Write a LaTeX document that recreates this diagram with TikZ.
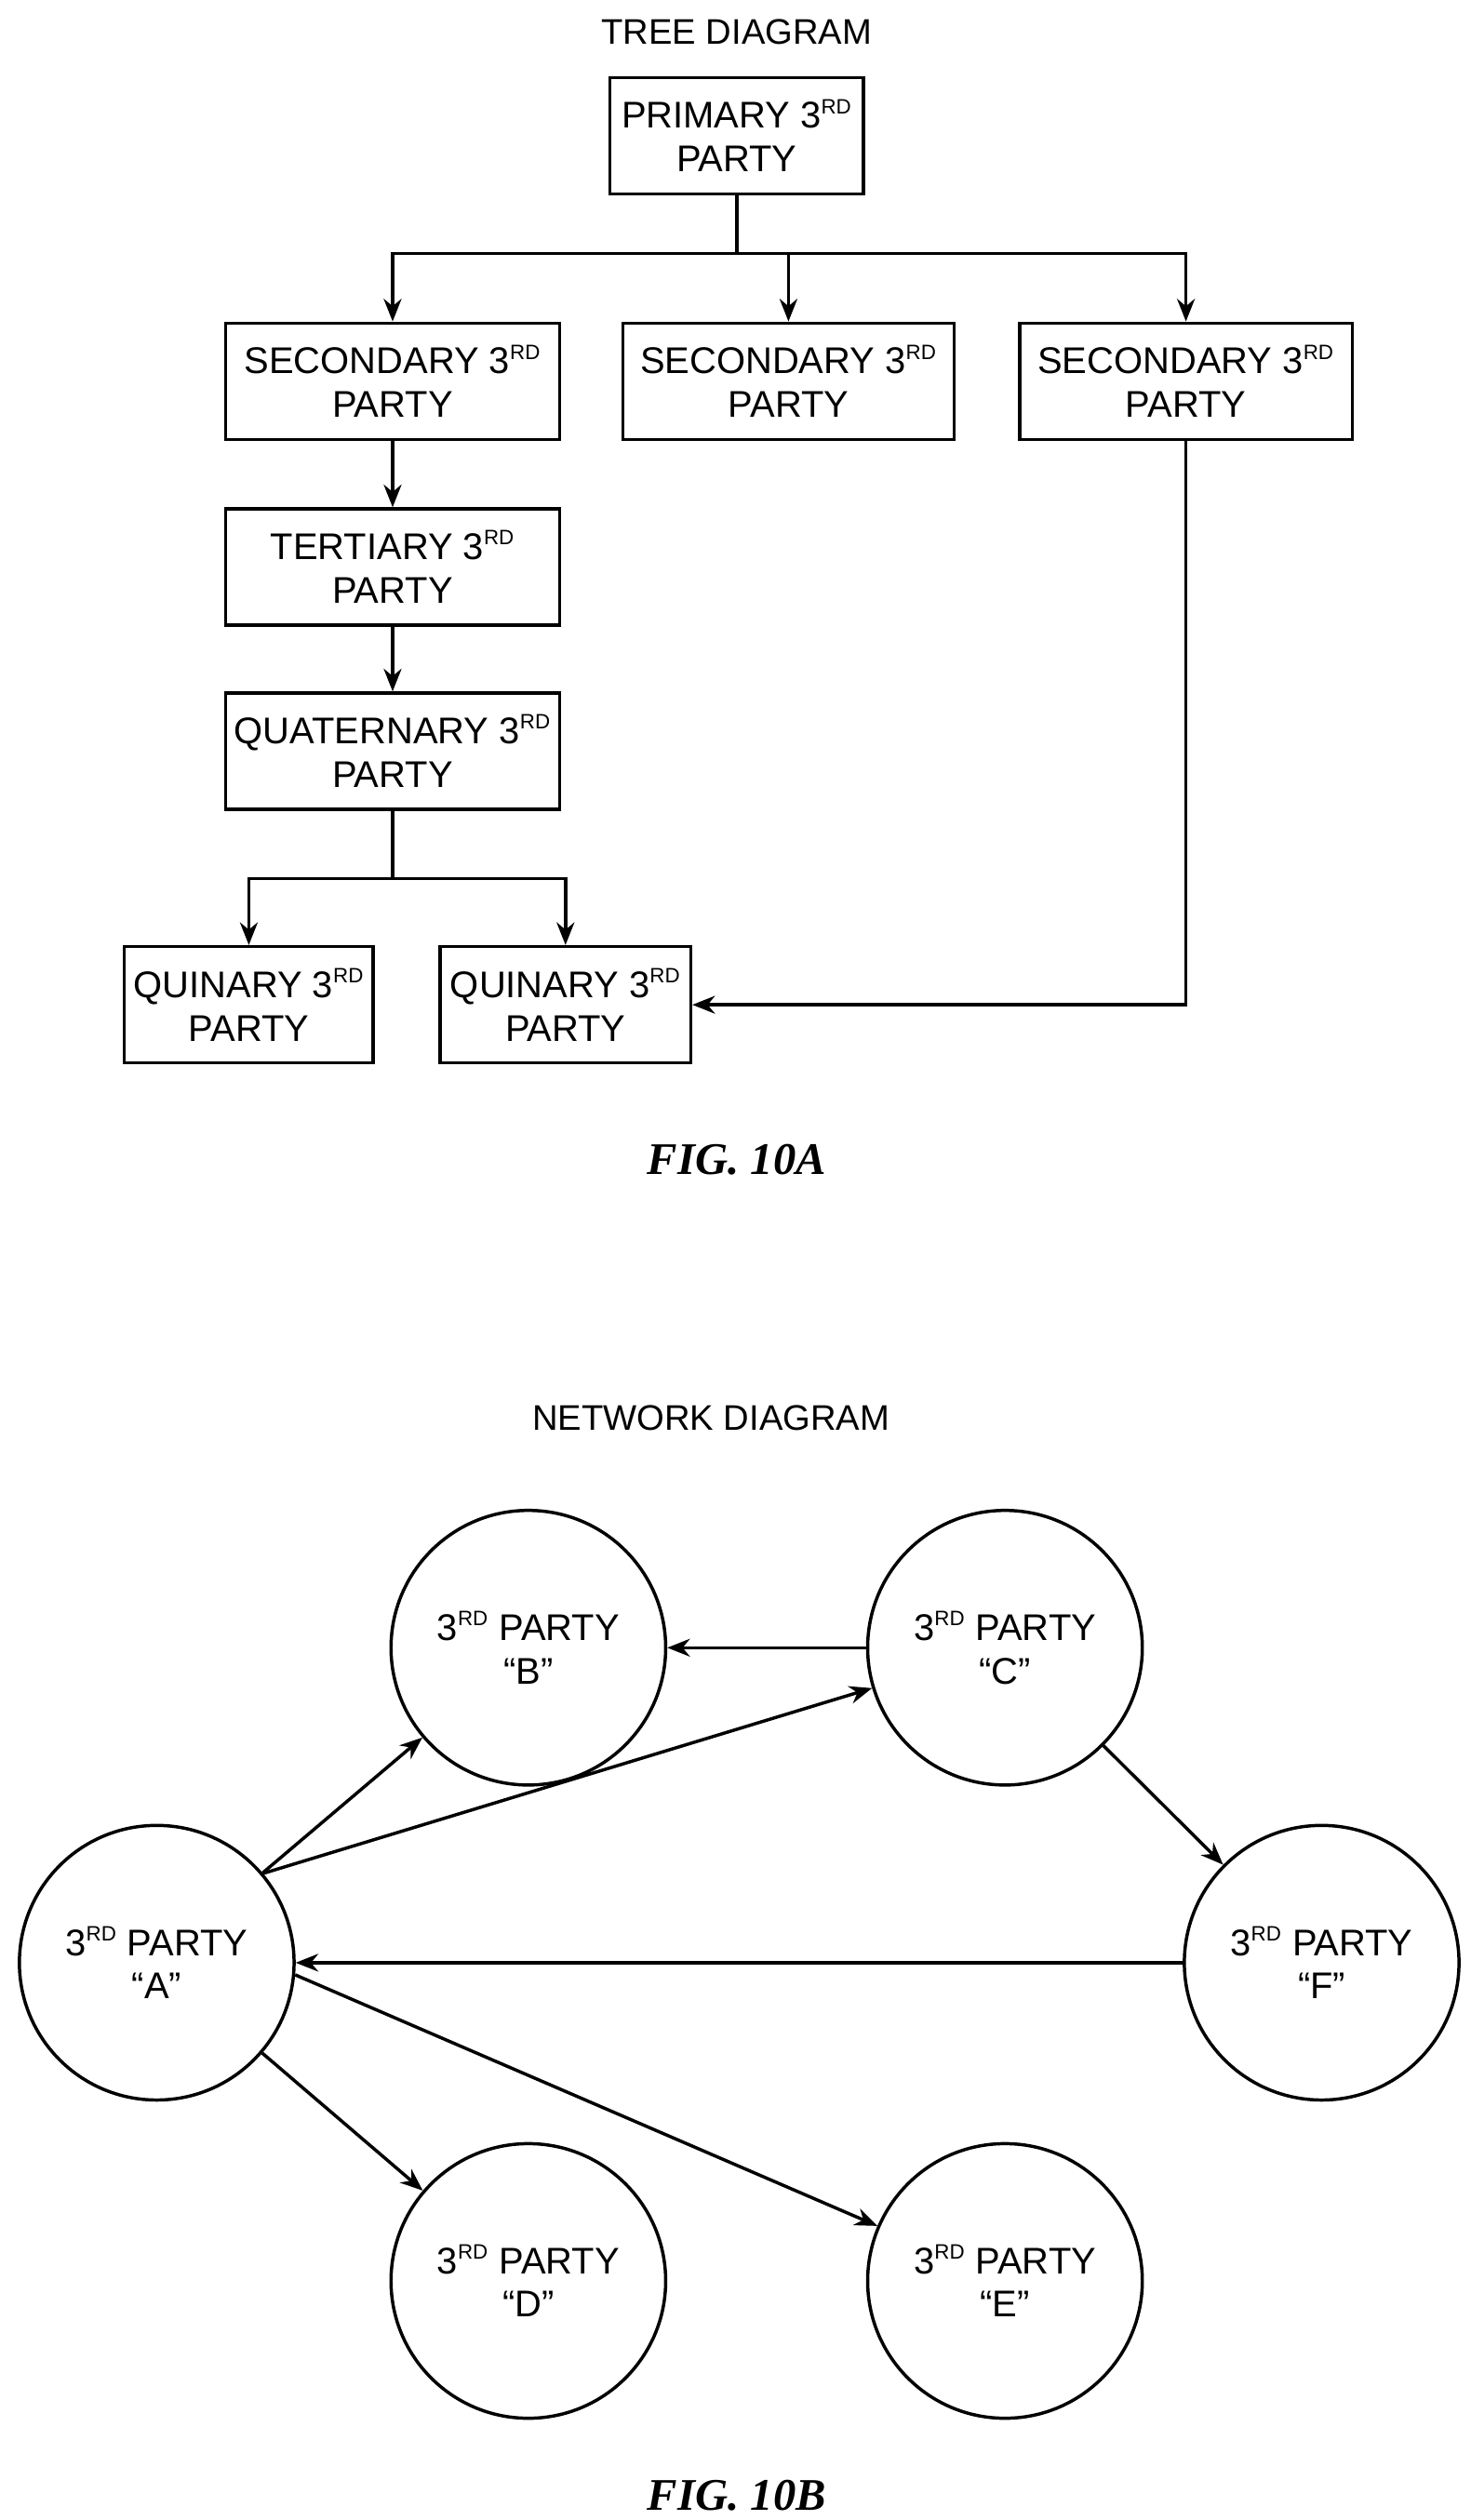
\documentclass[tikz,border=0pt]{standalone}
\usepackage{fontspec}
\setmainfont{Liberation Sans}
\newfontfamily\figfont{Liberation Serif}
\usetikzlibrary{arrows.meta}
\newcommand{\rdx}{3\textsuperscript{\scalebox{0.8}{RD}}}
\begin{document}
\begin{tikzpicture}[x=1pt,y=-1pt,
  box/.style={draw,line width=2pt,minimum width=#1,minimum height=72,align=center,font=\fontsize{23}{27}\selectfont,inner sep=0},
  circ/.style={draw,line width=2pt,circle,minimum size=170,align=center,font=\fontsize{23}{27}\selectfont},
  arr/.style={line width=2pt,-{Stealth[length=14,width=11]}},
  ln/.style={line width=2pt},
  title/.style={font=\fontsize{22}{26}\selectfont},
  fig/.style={font=\figfont\bfseries\itshape\fontsize{28}{32}\selectfont}]
\useasboundingbox (0,0) rectangle (910,1560);
\node[title] (t1) at (456,20) {TREE DIAGRAM};
\node[box=157] (p) at (456,84) {PRIMARY \rdx\\PARTY};
\node[box=207] (s1) at (243,236) {SECONDARY \rdx\\PARTY};
\node[box=205] (s2) at (488,236) {SECONDARY \rdx\\PARTY};
\node[box=206] (s3) at (734,236) {SECONDARY \rdx\\PARTY};
\node[box=207] (t) at (243,351) {TERTIARY \rdx\\PARTY};
\node[box=207] (q) at (243,465) {QUATERNARY \rdx\\PARTY};
\node[box=154] (q1) at (154,622) {QUINARY \rdx\\PARTY};
\node[box=155] (q2) at (350,622) {QUINARY \rdx\\PARTY};
\coordinate (j1) at (456,157);
\coordinate (j2) at (243,544);
\coordinate (j3) at (734,622);
\draw[ln] (p.south) -- (j1);
\draw[arr] (j1) -| (s1.north);
\draw[arr] (j1) -| (s2.north);
\draw[arr] (j1) -| (s3.north);
\draw[arr] (s1) -- (t);
\draw[arr] (t) -- (q);
\draw[ln] (q.south) -- (j2);
\draw[arr] (j2) -| (q1.north);
\draw[arr] (j2) -| (q2.north);
\draw[arr] (s3.south) |- (q2.east);
\node[fig] (f1) at (456,718) {FIG. 10A};
\node[title] (t2) at (440,878) {NETWORK DIAGRAM};
\node[circ] (A) at (97,1215) {\rdx\ PARTY\\``A''};
\node[circ] (B) at (327,1020) {\rdx\ PARTY\\``B''};
\node[circ] (C) at (622,1020) {\rdx\ PARTY\\``C''};
\node[circ] (D) at (327,1412) {\rdx\ PARTY\\``D''};
\node[circ] (E) at (622,1412) {\rdx\ PARTY\\``E''};
\node[circ] (F) at (818,1215) {\rdx\ PARTY\\``F''};
\draw[arr] (C) -- (B);
\draw[arr] (A) -- (B);
\draw[arr] (A.40) -- (C);
\draw[arr] (C) -- (F);
\draw[arr] (F) -- (A);
\draw[arr] (A) -- (D);
\draw[arr] (A.-5) -- (E);
\node[fig] (f2) at (456,1545) {FIG. 10B};
\end{tikzpicture}
\end{document}
